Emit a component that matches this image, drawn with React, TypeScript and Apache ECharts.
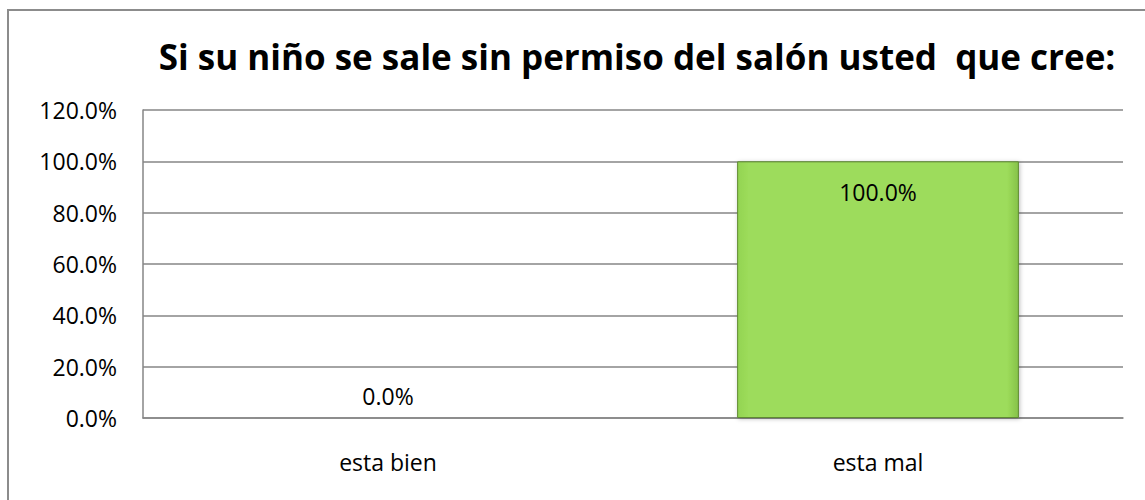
import React, { useEffect, useRef } from "react";
import * as echarts from "echarts";

const categories = ["esta bien", "esta mal"];
const values = [0, 100];
const yTicks = [0, 20, 40, 60, 80, 100, 120];
const titleText = "Si su niño se sale sin permiso del salón usted  que cree:";

export default function App() {
  const ref = useRef<HTMLDivElement>(null);
  useEffect(() => {
    const chart = echarts.init(ref.current!, null, { renderer: "svg" });
    const font = "'Open Sans', sans-serif";
    chart.setOption({
      animation: false,
      backgroundColor: "#ffffff",
      title: {
        text: titleText,
        left: 632,
        top: 34,
        textAlign: "center",
        textStyle: { fontFamily: font, fontWeight: "bold", fontSize: 35, color: "#000" },
      },
      graphic: [
        {
          type: "rect",
          shape: { x: 8, y: 10, width: 1200, height: 600 },
          style: { fill: "none", stroke: "#8c8c8c", lineWidth: 2 },
          silent: true,
        },
      ],
      grid: { left: 143, right: 22, top: 110, bottom: 82 },
      xAxis: {
        type: "category",
        data: categories,
        axisLine: { show: true, lineStyle: { color: "#868686", width: 1.5 } },
        axisTick: { show: false },
        axisLabel: { fontFamily: font, fontSize: 23, color: "#000", margin: 32 },
      },
      yAxis: {
        type: "value",
        min: yTicks[0],
        max: yTicks[yTicks.length - 1],
        interval: 20,
        axisLine: { show: true, lineStyle: { color: "#868686", width: 1.5 } },
        axisTick: { show: false },
        splitLine: { lineStyle: { color: "#868686", width: 1.5 } },
        axisLabel: {
          fontFamily: font,
          fontSize: 23,
          color: "#000",
          margin: 26,
          formatter: (v: number) => v.toFixed(1) + "%",
        },
      },
      series: [
        {
          type: "bar",
          barWidth: "57.5%",
          data: values.map((v, i) => ({
            value: v,
            label: {
              show: true,
              position: i === 0 ? "top" : "insideTop",
              distance: i === 0 ? 10 : 19,
              formatter: (p: any) => Number(p.value).toFixed(1) + "%",
              fontFamily: font,
              fontSize: 23,
              color: "#000",
            },
          })),
          itemStyle: {
            color: {
              type: "linear",
              x: 0, y: 0, x2: 1, y2: 0,
              colorStops: [
                { offset: 0, color: "#93d452" },
                { offset: 0.04, color: "#9ddc5b" },
                { offset: 0.96, color: "#9ddc5b" },
                { offset: 1, color: "#86c24a" },
              ],
            },
            borderColor: "#5e8a32",
            borderWidth: 1,
            shadowColor: "rgba(0,0,0,0.25)",
            shadowBlur: 4,
            shadowOffsetX: 1,
            shadowOffsetY: 1,
          },
        },
      ],
    });
    return () => chart.dispose();
  }, []);
  return (
    <div
      ref={ref}
      style={{ position: "fixed", left: 0, top: 0, width: 1145, height: 500 }}
    />
  );
}
